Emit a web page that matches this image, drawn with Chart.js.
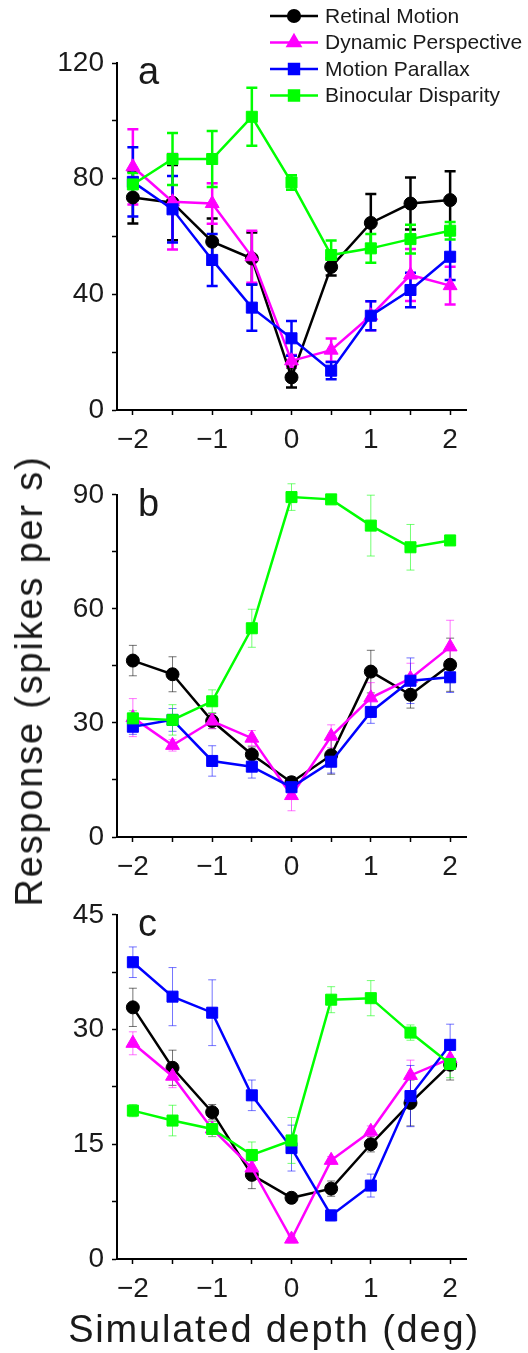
<!DOCTYPE html>
<html>
<head>
<meta charset="utf-8">
<script src="https://cdn.jsdelivr.net/npm/chart.js@4/dist/chart.umd.min.js"></script>
<style>
  body { margin: 0; background: #fff; }
  #wrap { position: relative; width: 528px; height: 1353px; overflow: hidden; }
  canvas { position: absolute; left: 0; }
  .title { position: absolute; font-family: "Liberation Sans", Arial, sans-serif; font-size: 38px;
           line-height: 38px; letter-spacing: 1.8px; color: #1a1a1a; white-space: nowrap; }
</style>
</head>
<body>
<div id="wrap">
  <canvas id="panelA" width="528" height="470" style="top:0px"></canvas>
  <canvas id="panelB" width="528" height="420" style="top:470px"></canvas>
  <canvas id="panelC" width="528" height="463" style="top:890px"></canvas>
  <div class="title" style="left:274px; top:1310px; transform:translateX(-50%)">Simulated depth (deg)</div>
  <div class="title" style="left:29px; top:681px; transform:translate(-50%,-50%) rotate(-90deg)">Response (spikes per s)</div>
</div>
<script>
// shared x values and names
const depth = [-2, -1.5, -1, -0.5, 0, 0.5, 1, 1.5, 2];
const xTicks = [-2, -1.5, -1, -0.5, 0, 0.5, 1, 1.5, 2];
const seriesNames = ['Retinal Motion', 'Dynamic Perspective', 'Motion Parallax', 'Binocular Disparity'];

// panel a
const aRetinal = [73.5, 71.7, 58.2, 52.4, 11.3, 49.5, 64.7, 71.4, 72.6];
const aRetinalErr = [9, 13, 8, 9, 3.5, 3, 10, 9, 10];
const aDynamic = [84.1, 72, 71.4, 53, 17, 20.7, 32.6, 46.7, 43];
const aDynamicErr = [13, 16.5, 7, 9, 2, 4, 5, 9, 6.5];
const aParallax = [78.9, 69.4, 51.9, 35.4, 24.8, 13.6, 32.6, 41.5, 53];
const aParallaxErr = [12, 11.5, 9, 8, 6, 3, 5, 6, 8];
const aDisparity = [78, 86.8, 86.8, 101.4, 78.7, 53.6, 55.9, 59.1, 62];
const aDisparityErr = [4, 9, 9.7, 10, 2.5, 5, 5, 5, 3];
const aYTicks = [0, 20, 40, 60, 80, 100, 120];
const aYLabels = [0, 40, 80, 120];

// panel b
const bRetinal = [46.4, 42.8, 30.5, 21.7, 14.4, 21.5, 43.5, 37.4, 45.3];
const bRetinalErr = [4, 4.6, 2, 2, 1.5, 5, 5.6, 3.5, 7];
const bDynamic = [31.4, 24.1, 30.5, 26, 10.9, 26.5, 36.6, 41.7, 50];
const bDynamicErr = [5, 1.5, 2, 2, 4, 3, 4, 4, 7];
const bParallax = [29, 30.8, 20, 18.5, 13.1, 19.8, 32.9, 41.1, 42];
const bParallaxErr = [2, 3, 4, 3, 1.5, 3, 3, 6, 4];
const bDisparity = [31.2, 30.8, 35.7, 54.9, 89.4, 88.8, 81.9, 76.2, 78];
const bDisparityErr = [2, 4, 3, 5, 3.5, 1, 8, 6, 1];
const bYTicks = [0, 15, 30, 45, 60, 75, 90];
const bYLabels = [0, 30, 60, 90];

// panel c
const cRetinal = [32.9, 25, 19.2, 11, 8, 9.2, 15, 20.4, 25.4];
const cRetinalErr = [2.5, 2.3, 1, 1.8, 0.5, 1, 1, 3, 2];
const cDynamic = [28.2, 23.9, 17, 11.9, 2.6, 12.9, 16.7, 24, 26.2];
const cDynamicErr = [1.5, 1.5, 1, 1, 0.5, 0.5, 0.7, 2, 1.5];
const cParallax = [38.8, 34.3, 32.2, 21.4, 14.5, 5.7, 9.6, 21.3, 28];
const cParallaxErr = [2, 3.8, 4.3, 2, 3, 0.7, 1.5, 4, 2.7];
const cDisparity = [19.4, 18.1, 17, 13.6, 15.5, 33.9, 34.1, 29.6, 25.5];
const cDisparityErr = [0.8, 2, 1, 1.7, 3, 1.7, 2.3, 1, 1.8];
const cYTicks = [0, 7.5, 15, 22.5, 30, 37.5, 45];
const cYLabels = [0, 15, 30, 45];

const FONT = '"Liberation Sans", Arial, sans-serif';
const colors = ['#000000', '#ff00ff', '#0000ff', '#00ff00'];
const styles = ['circle', 'triangle', 'rect', 'rect'];
const radii = [6.5, 8, 7.8, 7.8];

function fade(hex, a) {
  const n = parseInt(hex.slice(1), 16);
  return `rgba(${n >> 16},${(n >> 8) & 255},${n & 255},${a})`;
}
function fmt(v) {
  return v < 0 ? '\u2212' + Math.abs(v) : String(v);
}

// error bars drawn under the lines
const errorBars = {
  id: 'errorBars',
  beforeDatasetsDraw(chart, args, opts) {
    const ctx = chart.ctx, xs = chart.scales.x, ys = chart.scales.y;
    ctx.save();
    ctx.lineWidth = opts.width;
    chart.data.datasets.forEach(ds => {
      ctx.strokeStyle = fade(ds.borderColor, opts.alpha);
      ds.data.forEach((p, i) => {
        const e = ds.errors[i];
        const x = xs.getPixelForValue(p.x);
        const y1 = ys.getPixelForValue(p.y - e), y2 = ys.getPixelForValue(p.y + e);
        ctx.beginPath();
        ctx.moveTo(x, y1); ctx.lineTo(x, y2);
        ctx.moveTo(x - opts.cap, y1); ctx.lineTo(x + opts.cap, y1);
        ctx.moveTo(x - opts.cap, y2); ctx.lineTo(x + opts.cap, y2);
        ctx.stroke();
      });
    });
    ctx.restore();
  }
};

// panel letter
const panelLetter = {
  id: 'panelLetter',
  afterDraw(chart, args, opts) {
    const ctx = chart.ctx;
    ctx.save();
    ctx.font = '38px ' + FONT;
    ctx.fillStyle = '#1a1a1a';
    ctx.textBaseline = 'alphabetic';
    ctx.fillText(opts.text, chart.chartArea.left + 21, chart.chartArea.top + 21);
    ctx.restore();
  }
};

// legend at the top right of panel a
const cornerLegend = {
  id: 'cornerLegend',
  afterDraw(chart, args, opts) {
    if (!opts.show) return;
    const ctx = chart.ctx;
    ctx.save();
    seriesNames.forEach((name, i) => {
      const y = 16 + i * 26.5;
      ctx.strokeStyle = colors[i];
      ctx.fillStyle = colors[i];
      ctx.lineWidth = 2.5;
      ctx.beginPath();
      ctx.moveTo(270, y); ctx.lineTo(318, y);
      ctx.stroke();
      Chart.helpers.drawPoint(ctx, { pointStyle: styles[i], radius: radii[i] * 0.9, rotation: 0, borderWidth: 1 }, 294, y);
      ctx.fillStyle = '#1a1a1a';
      ctx.font = '21px ' + FONT;
      ctx.textBaseline = 'middle';
      ctx.fillText(name, 325, y + 1);
    });
    ctx.restore();
  }
};

function makePanel(id, letter, series, errs, yTicks, yLabels, padTop, xHeight, errStyle, legend) {
  const datasets = series.map((vals, i) => ({
    label: seriesNames[i],
    data: depth.map((d, j) => ({ x: d, y: vals[j] })),
    errors: errs[i],
    borderColor: colors[i],
    backgroundColor: colors[i],
    borderWidth: 2.5,
    pointStyle: styles[i],
    pointRadius: radii[i],
    pointBorderWidth: 1,
    tension: 0,
    clip: false,
    order: 4 - i
  }));
  return new Chart(document.getElementById(id), {
    type: 'line',
    data: { datasets },
    options: {
      responsive: false,
      animation: false,
      layout: { padding: { top: padTop, right: 62, left: 0, bottom: 0 } },
      plugins: {
        legend: { display: false },
        tooltip: { enabled: false },
        errorBars: errStyle,
        panelLetter: { text: letter },
        cornerLegend: { show: legend }
      },
      scales: {
        x: {
          type: 'linear', min: -2.2, max: 2.2,
          afterBuildTicks: s => { s.ticks = xTicks.map(v => ({ value: v })); },
          afterFit: s => { s.height = xHeight; },
          grid: { drawOnChartArea: false, tickLength: 5, tickWidth: 1.5, color: '#000' },
          border: { color: '#000', width: 2 },
          ticks: {
            autoSkip: false, maxRotation: 0, padding: 8, color: '#1a1a1a',
            font: { size: 28, family: FONT },
            callback: v => Number.isInteger(v) ? fmt(v) : ''
          }
        },
        y: {
          min: yTicks[0], max: yTicks[yTicks.length - 1],
          afterBuildTicks: s => { s.ticks = yTicks.map(v => ({ value: v })); },
          afterFit: s => { s.width = 117; },
          grid: { drawOnChartArea: false, tickLength: 5, tickWidth: 1.5, color: '#000' },
          border: { color: '#000', width: 2 },
          ticks: {
            autoSkip: false, padding: 8, color: '#1a1a1a',
            font: { size: 28, family: FONT },
            callback: v => yLabels.includes(v) ? String(v) : ''
          }
        }
      }
    },
    plugins: [errorBars, panelLetter, cornerLegend]
  });
}

const thick = { width: 2.5, cap: 5.5, alpha: 1 };
const thin = { width: 1, cap: 4, alpha: 0.55 };

makePanel('panelA', 'a',
  [aRetinal, aDynamic, aParallax, aDisparity],
  [aRetinalErr, aDynamicErr, aParallaxErr, aDisparityErr],
  aYTicks, aYLabels, 63, 60, thick, true);
makePanel('panelB', 'b',
  [bRetinal, bDynamic, bParallax, bDisparity],
  [bRetinalErr, bDynamicErr, bParallaxErr, bDisparityErr],
  bYTicks, bYLabels, 19, 53, thin, false);
makePanel('panelC', 'c',
  [cRetinal, cDynamic, cParallax, cDisparity],
  [cRetinalErr, cDynamicErr, cParallaxErr, cDisparityErr],
  cYTicks, cYLabels, 22, 94, thin, false);
</script>
</body>
</html>
